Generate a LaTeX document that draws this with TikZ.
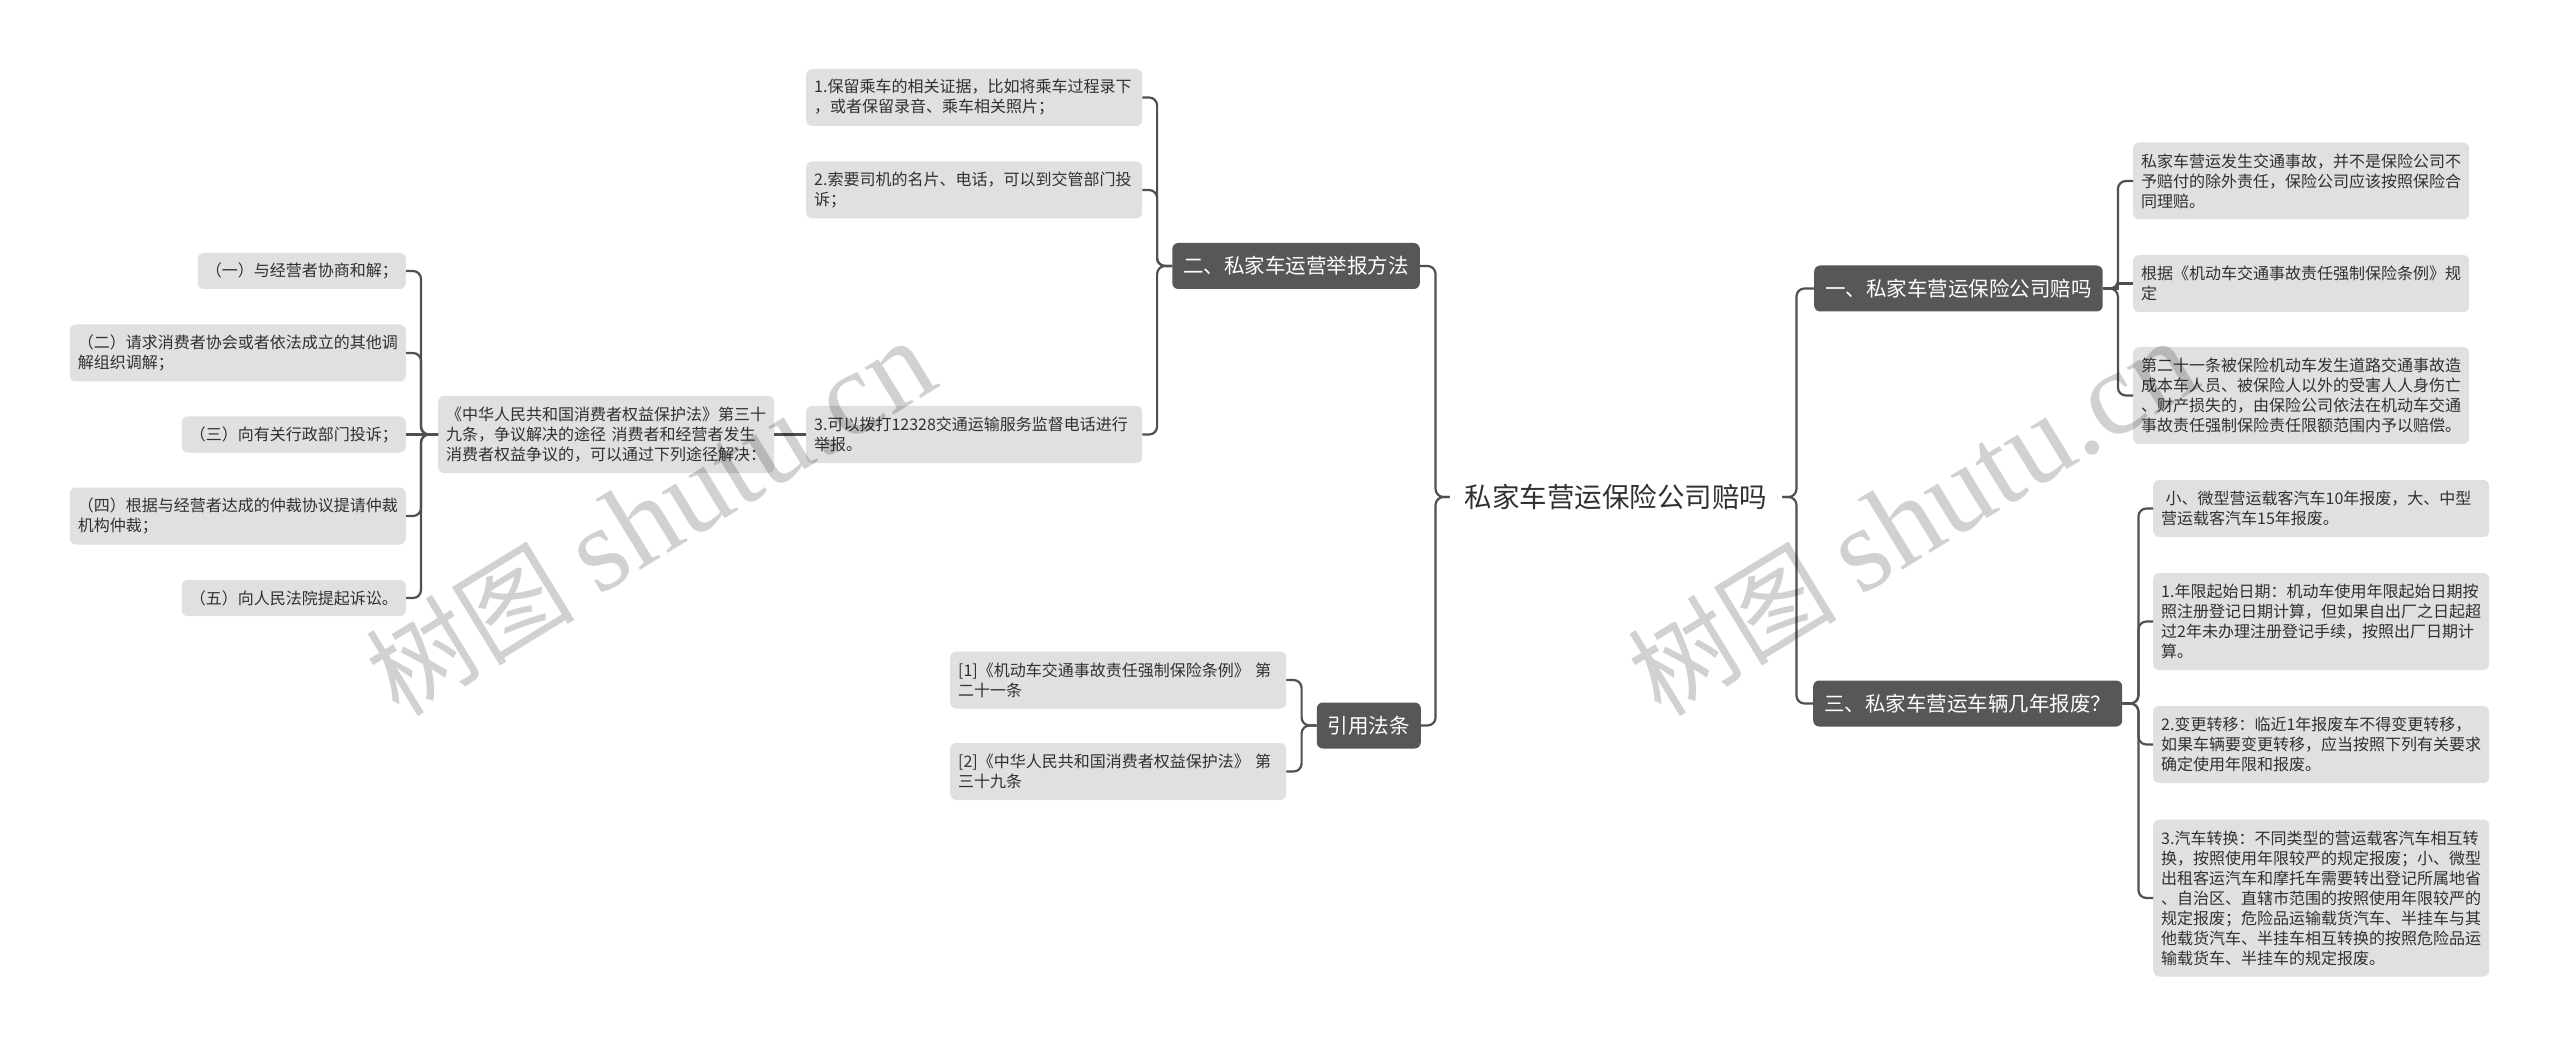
\documentclass[tikz,border=0pt]{standalone}
\usepackage{fontspec}
\setmainfont{Noto Sans CJK SC}
\newfontfamily\wmlatin{Liberation Serif}
\definecolor{lightbox}{HTML}{E0E0E0}
\definecolor{darkbox}{HTML}{575757}
\definecolor{linec}{HTML}{505050}
\definecolor{txt}{HTML}{303030}
\tikzset{
  leaf/.style={fill=lightbox, rounded corners=6pt, text=txt, font=\fontsize{16}{20}\selectfont,
    inner xsep=8pt, inner ysep=2pt, align=left, text width=320pt},
  leafone/.style={fill=lightbox, rounded corners=6pt, text=txt, font=\fontsize{16}{20}\selectfont,
    inner xsep=8pt, inner ysep=2pt, minimum height=36pt},
  nl/.style={minimum height={20*#1+17}},
  topic/.style={fill=darkbox, rounded corners=6pt, text=white, font=\fontsize{20.5}{24}\selectfont,
    inner xsep=11pt, inner ysep=2pt, minimum height=46pt},
  rootnode/.style={text=txt, font=\fontsize{27.5}{32}\selectfont, inner xsep=15pt, inner ysep=4pt},
  conn/.style={draw=linec, line width=2.2pt, rounded corners=8pt},
  wm/.style={text=black, opacity=0.18, rotate=31.5, inner sep=0pt},
}
\begin{document}
\begin{tikzpicture}[x=1pt, y=-1pt]
\fill[white] (0,0) rectangle (2560,1048);
\useasboundingbox (0,0) rectangle (2560,1048);

% root
\node[rootnode] (root) at (1616,497) {私家车营运保险公司赔吗};

% level 1
\node[topic, anchor=east] (t2) at (1420,266) {二、私家车运营举报方法};
\node[topic, anchor=east] (tc) at (1421,725.5) {引用法条};
\node[topic, anchor=west] (t1) at (1814,288.5) {一、私家车营运保险公司赔吗};
\node[topic, anchor=west] (t3) at (1813,703.5) {三、私家车营运车辆几年报废？};

% group 二
\node[leaf, nl=2, anchor=west] (b1) at (806,97.5) {1.保留乘车的相关证据，比如将乘车过程录下\\，或者保留录音、乘车相关照片；};
\node[leaf, nl=2, anchor=west] (b2) at (806,190) {2.索要司机的名片、电话，可以到交管部门投\\诉；};
\node[leaf, nl=2, anchor=west] (b3) at (806,434.5) {3.可以拨打12328交通运输服务监督电话进行\\举报。};

% law box
\node[leaf, nl=3, anchor=west] (law) at (438,434.5) {《中华人民共和国消费者权益保护法》第三十\\九条，争议解决的途径 消费者和经营者发生\\消费者权益争议的，可以通过下列途径解决：};

% five ways
\node[leafone, anchor=east] (w1) at (406,271) {（一）与经营者协商和解；};
\node[leaf, nl=2, anchor=east] (w2) at (406,353) {（二）请求消费者协会或者依法成立的其他调\\解组织调解；};
\node[leafone, anchor=east] (w3) at (406,434.5) {（三）向有关行政部门投诉；};
\node[leaf, nl=2, anchor=east] (w4) at (406,516) {（四）根据与经营者达成的仲裁协议提请仲裁\\机构仲裁；};
\node[leafone, anchor=east] (w5) at (406,598) {（五）向人民法院提起诉讼。};

% citations
\node[leaf, nl=2, anchor=west] (c1) at (950,680) {[1]《机动车交通事故责任强制保险条例》 第\\二十一条};
\node[leaf, nl=2, anchor=west] (c2) at (950,771.5) {[2]《中华人民共和国消费者权益保护法》 第\\三十九条};

% group 一
\node[leaf, nl=3, anchor=west] (ra) at (2133,181) {私家车营运发生交通事故，并不是保险公司不\\予赔付的除外责任，保险公司应该按照保险合\\同理赔。};
\node[leaf, nl=2, anchor=west] (rb) at (2133,283.5) {根据《机动车交通事故责任强制保险条例》规\\定};
\node[leaf, nl=4, anchor=west] (rc) at (2133,395.5) {第二十一条被保险机动车发生道路交通事故造\\成本车人员、被保险人以外的受害人人身伤亡\\、财产损失的，由保险公司依法在机动车交通\\事故责任强制保险责任限额范围内予以赔偿。};

% group 三
\node[leaf, nl=2, anchor=west] (rd) at (2153,508.5) {\hspace*{4.5pt}小、微型营运载客汽车10年报废，大、中型\\营运载客汽车15年报废。};
\node[leaf, nl=4, anchor=west] (re) at (2153,621.5) {1.年限起始日期：机动车使用年限起始日期按\\照注册登记日期计算，但如果自出厂之日起超\\过2年未办理注册登记手续，按照出厂日期计\\算。};
\node[leaf, nl=3, anchor=west] (rf) at (2153,744.5) {2.变更转移：临近1年报废车不得变更转移，\\如果车辆要变更转移，应当按照下列有关要求\\确定使用年限和报废。};
\node[leaf, nl=7, anchor=west] (rg) at (2153,898) {3.汽车转换：不同类型的营运载客汽车相互转\\换，按照使用年限较严的规定报废；小、微型\\出租客运汽车和摩托车需要转出登记所属地省\\、自治区、直辖市范围的按照使用年限较严的\\规定报废；危险品运输载货汽车、半挂车与其\\他载货汽车、半挂车相互转换的按照危险品运\\输载货车、半挂车的规定报废。};

% connectors: root
\draw[conn] (root.west) -- ++(-14,0) |- (t2.east);
\draw[conn] (root.west) -- ++(-14,0) |- (tc.east);
\draw[conn] (root.east) -- ++(14,0) |- (t1.west);
\draw[conn] (root.east) -- ++(14,0) |- (t3.west);
% group 二
\draw[conn] (t2.west) -- ++(-15,0) |- (b1.east);
\draw[conn] (t2.west) -- ++(-15,0) |- (b2.east);
\draw[conn] (t2.west) -- ++(-15,0) |- (b3.east);
\draw[conn] (law.east) -- (b3.west);
% five ways
\draw[conn] (law.west) -- ++(-17,0) |- (w1.east);
\draw[conn] (law.west) -- ++(-17,0) |- (w2.east);
\draw[conn] (law.west) -- (w3.east);
\draw[conn] (law.west) -- ++(-17,0) |- (w4.east);
\draw[conn] (law.west) -- ++(-17,0) |- (w5.east);
% citations
\draw[conn] (tc.west) -- ++(-15,0) |- (c1.east);
\draw[conn] (tc.west) -- ++(-15,0) |- (c2.east);
% group 一
\draw[conn] (t1.east) -- ++(15,0) |- (ra.west);
\draw[conn, sharp corners] (t1.east) -- ++(15,0) |- (rb.west);
\draw[conn] (t1.east) -- ++(15,0) |- (rc.west);
% group 三
\draw[conn] (t3.east) -- ++(16,0) |- (rd.west);
\draw[conn] (t3.east) -- ++(16,0) |- (re.west);
\draw[conn] (t3.east) -- ++(16,0) |- (rf.west);
\draw[conn] (t3.east) -- ++(16,0) |- (rg.west);

% watermarks
\node[wm] (wmA) at (650,518) {\fontsize{105}{105}\selectfont 树图 {\wmlatin\fontsize{120}{120}\selectfont shutu.cn}};
\node[wm] (wmB) at (1912,518) {\fontsize{105}{105}\selectfont 树图 {\wmlatin\fontsize{120}{120}\selectfont shutu.cn}};
\end{tikzpicture}
\end{document}
